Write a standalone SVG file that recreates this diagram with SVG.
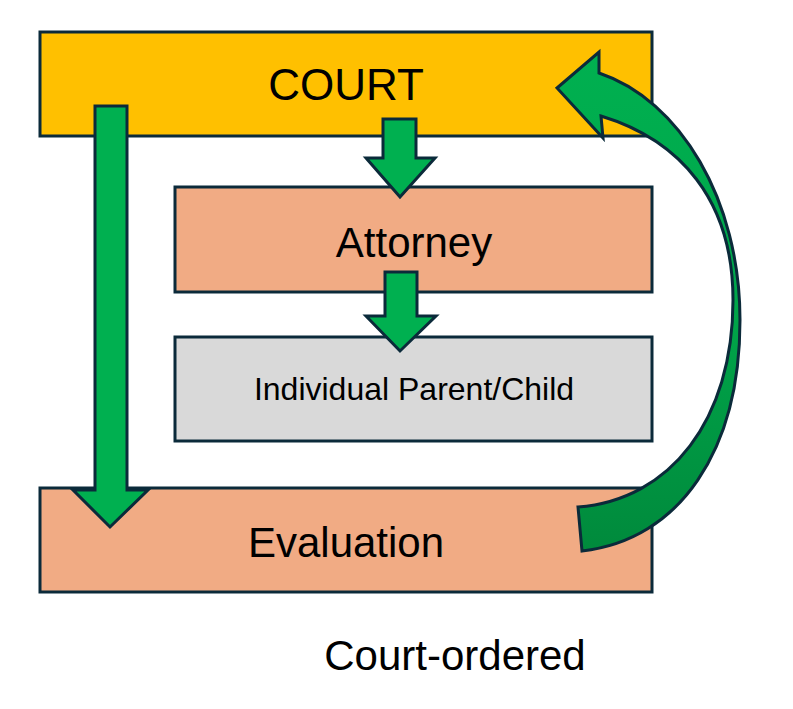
<svg xmlns="http://www.w3.org/2000/svg" width="793" height="709" viewBox="0 0 793 709">
<style>
.b{stroke:#0B2A3A;stroke-width:3}
.a{fill:#00B050;stroke:#0B2A3A;stroke-width:3;stroke-linejoin:miter}
text{font-family:"Liberation Sans",Arial,sans-serif;fill:#000;text-anchor:middle}
</style>
<defs><linearGradient id="g" x1="0" y1="0" x2="0" y2="1"><stop offset="0" stop-color="#00B050"/><stop offset="0.5" stop-color="#00A64A"/><stop offset="1" stop-color="#008A3C"/></linearGradient></defs>
<rect width="793" height="709" fill="#fff"/>
<g id="court"><rect class="b" x="40" y="32" width="612" height="104" fill="#FFC000"/><text x="346" y="100" font-size="44">COURT</text></g>
<g id="attorney"><rect class="b" x="175" y="187" width="477" height="105" fill="#F1AB84"/><text x="414" y="257" font-size="42">Attorney</text></g>
<g id="individual"><rect class="b" x="175" y="337" width="477" height="104" fill="#D9D9D9"/><text x="414" y="400" font-size="32">Individual Parent/Child</text></g>
<g id="evaluation"><rect class="b" x="40" y="488" width="612" height="104" fill="#F1AB84"/><text x="346" y="557" font-size="42">Evaluation</text></g>
<g id="connectors">
<path class="a" d="M95,106 H127 V490 H148 L110,527 L73,490 H95 Z"/>
<path class="a" d="M383,119 H416 V158 H435 L400,197 L366,158 H383 Z"/>
<path class="a" d="M385,272 H417 V316 H436 L400,351 L366,316 H385 Z"/>
<path class="a" style="fill:url(#g)" d="M557,88 L599,52 L599,73 C680,100 740,200 740,320 C740,450 680,540 582,551 L578,507 C670,500 733,420 733,300 C733,200 680,140 601,116 L603,138 Z"/>
</g>
<text x="455" y="670" font-size="42">Court-ordered</text>
</svg>
